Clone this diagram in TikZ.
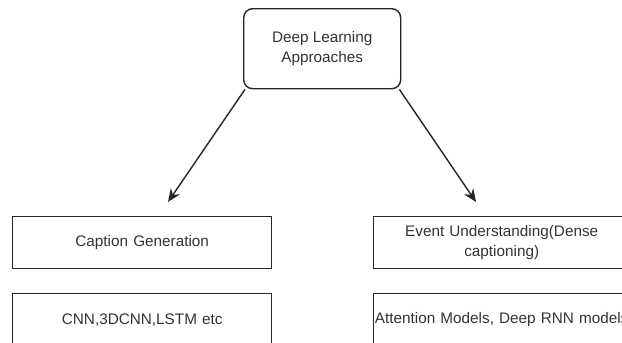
\documentclass[tikz,border=0pt]{standalone}
\usepackage{fontspec}
\setmainfont{Liberation Sans}
\usetikzlibrary{arrows.meta}
\definecolor{ink}{HTML}{262626}
\definecolor{txt}{HTML}{333333}
\tikzset{
  box/.style={draw=ink, line width=1.4pt, minimum height=52pt, text width=250pt,
    align=center, inner sep=0pt, anchor=north west, text=txt,
    font=\fontsize{15.3pt}{19.5pt}\selectfont},
  rootbox/.style={draw=ink, line width=1.4pt, rounded corners=9pt, minimum width=157pt,
    minimum height=80pt, align=center, inner sep=0pt, anchor=north west, text=txt,
    font=\fontsize{15.3pt}{20pt}\selectfont},
  link/.style={draw=ink, line width=1.4pt, -{Stealth[length=13pt,width=11pt]}}
}
\begin{document}
\begin{tikzpicture}[x=1pt,y=-1pt]
  \useasboundingbox (0,0) rectangle (622,343);
  \clip (0,0) rectangle (622,343);
  % root
  \node[rootbox] (root) at (243,8) {Deep Learning\\Approaches};
  % first level
  \node[box, minimum width=259pt] (cap) at (12,216) {Caption Generation};
  \node[box, minimum width=256pt] (evt) at (373,216) {Event Understanding(Dense\\captioning)};
  % second level
  \node[box, minimum width=259pt] (cnn) at (12,293) {CNN,3DCNN,LSTM etc};
  \node[box, minimum width=256pt] (att) at (373,293)
    {\makebox[0pt]{Attention Models, Deep RNN models}};
  % arrow ends
  \coordinate (capTip) at (168,202);
  \coordinate (evtTip) at (476,202);
  \draw[link] (root.south west) ++(2,0) -- (capTip);
  \draw[link] (root.south east) ++(-2,0) -- (evtTip);
\end{tikzpicture}
\end{document}
